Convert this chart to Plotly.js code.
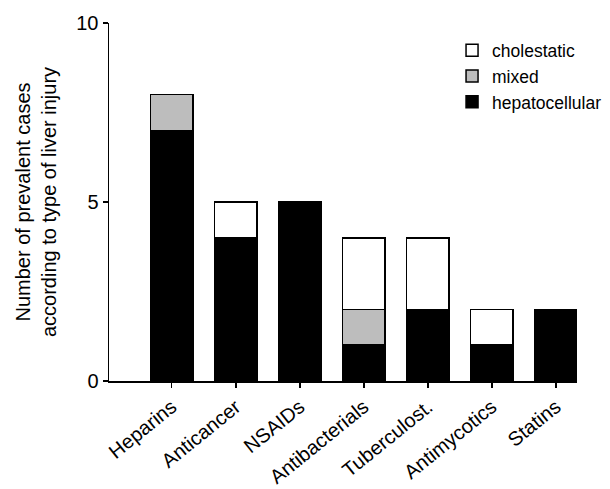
<!DOCTYPE html>
<html>
<head>
<meta charset="utf-8">
<script src="https://cdn.plot.ly/plotly-3.0.1.min.js"></script>
<style>html,body{margin:0;padding:0;background:#fff;}#chart{width:610px;height:489px;}</style>
</head>
<body>
<div id="chart"></div>
<script>
const categories = ["Heparins", "Anticancer", "NSAIDs", "Antibacterials", "Tuberculost.", "Antimycotics", "Statins"];
const hepatocellular = [7, 4, 5, 1, 2, 1, 2];
const mixed = [1, 0, 0, 1, 0, 0, 0];
const cholestatic = [0, 1, 0, 2, 2, 1, 0];
const yTicks = [0, 5, 10];

const line = {color: "#000", width: 1.5};
const traces = [
  {type: "bar", name: "hepatocellular", x: categories, y: hepatocellular, marker: {color: "#000", line: line}},
  {type: "bar", name: "mixed", x: categories, y: mixed, marker: {color: "#bdbdbd", line: line}},
  {type: "bar", name: "cholestatic", x: categories, y: cholestatic, marker: {color: "#fff", line: line}}
];

const layout = {
  width: 610, height: 489,
  margin: {l: 109, r: 33, t: 23, b: 108, autoexpand: false},
  barmode: "stack",
  bargap: 0.34,
  paper_bgcolor: "#fff", plot_bgcolor: "#fff",
  font: {family: "Liberation Sans, Arial, sans-serif", color: "#000", size: 18},
  showlegend: true,
  legend: {traceorder: "reversed", x: 0.733, y: 0.974, xanchor: "left", yanchor: "top",
           font: {size: 17.5}, bgcolor: "rgba(0,0,0,0)", itemwidth: 30, borderwidth: 0},
  xaxis: {
    type: "category", range: [-0.98, 6.33],
    showline: true, linecolor: "#000", linewidth: 1.5,
    ticks: "outside", ticklen: 5, tickcolor: "#000", tickwidth: 1.5,
    tickangle: -39, tickfont: {size: 20},
    showgrid: false, zeroline: false, fixedrange: true
  },
  yaxis: {
    range: [0, 10], tickvals: yTicks, ticktext: yTicks.map(String),
    showline: true, linecolor: "#000", linewidth: 1.5,
    ticks: "outside", ticklen: 5, tickcolor: "#000", tickwidth: 1.5,
    tickfont: {size: 20},
    showgrid: false, zeroline: false,
    title: {text: "Number of prevalent cases<br>according to type of liver injury", font: {size: 20}, standoff: 14}
  }
};

Plotly.newPlot("chart", traces, layout, {displayModeBar: false, staticPlot: true});
</script>
</body>
</html>
